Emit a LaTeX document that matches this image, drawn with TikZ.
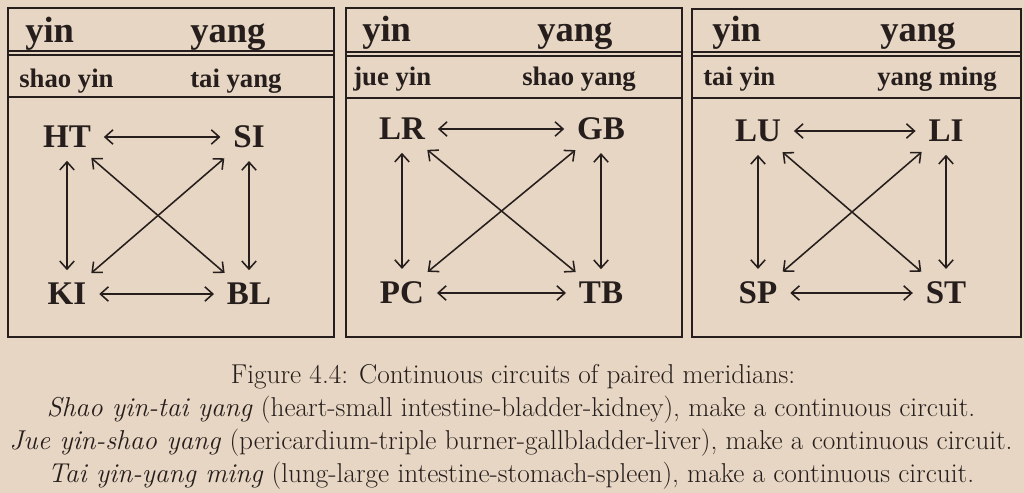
\documentclass[tikz,border=0pt]{standalone}
\usepackage{fontspec}
\newfontfamily\timesfont{Liberation Serif}
\usetikzlibrary{arrows.meta}
\definecolor{paper}{RGB}{230,214,195}
\definecolor{ink}{RGB}{38,30,28}

\begin{document}
\begin{tikzpicture}[x=0.25mm, y=-0.25mm, >={Straight Barb[length=2mm,width=3.6mm]}]
        \tikzstyle{frame} = [draw=ink, line width=1.3pt]
        \tikzstyle{rule} = [draw=ink, line width=1pt]
        \tikzstyle{head} = [anchor=base west, inner sep=0pt, text=ink, font=\timesfont\bfseries\fontsize{26}{28}\selectfont]
        \tikzstyle{sub} = [anchor=base west, inner sep=0pt, text=ink, font=\timesfont\bfseries\fontsize{19}{21}\selectfont]
        \tikzstyle{organ} = [text=ink, font=\timesfont\bfseries\fontsize{23.5}{25}\selectfont]
        \tikzstyle{link} = [<->, draw=ink, line width=1.1pt, shorten <=2mm, shorten >=2mm]
        \tikzstyle{caption} = [anchor=base, inner sep=0pt, text=ink, font=\fontsize{19.4}{21}\selectfont]

        \fill[paper] (0,0) rectangle (1024,493);
        \useasboundingbox (0,0) rectangle (1024,493);

        % shao yin - tai yang
        \draw[frame] (8,8) rectangle (334,337);
        \draw[rule] (8,51) -- (334,51) (8,55) -- (334,55) (8,97) -- (334,97);
        \node (yin1) [head] at (25,43) {yin};
        \node (yang1) [head] at (190,43) {yang};
        \node (shaoyin) [sub] at (19,88) {shao yin};
        \node (taiyang) [sub] at (190,88) {tai yang};

        \node (HT) [organ] at (67,137) {HT};
        \node (SI) [organ, right of=HT, node distance=45.5mm] {SI};
        \node (KI) [organ, below of=HT, node distance=39.25mm] {KI};
        \node (BL) [organ, below of=SI, node distance=39.25mm] {BL};

        \draw [link] (HT) -- (SI);
        \draw [link] (KI) -- (BL);
        \draw [link] (HT) -- (KI);
        \draw [link] (SI) -- (BL);
        \draw [link] (HT) -- (BL);
        \draw [link] (SI) -- (KI);

        % jue yin - shao yang
        \draw[frame] (346,8) rectangle (682,337);
        \draw[rule] (346,52) -- (682,52) (346,56) -- (682,56) (346,98) -- (682,98);
        \node (yin2) [head] at (362,42) {yin};
        \node (yang2) [head] at (537,42) {yang};
        \node (jueyin) [sub] at (353,86) {jue yin};
        \node (shaoyang) [sub] at (522,86) {shao yang};

        \node (LR) [organ] at (402,129) {LR};
        \node (GB) [organ, right of=LR, node distance=49.75mm] {GB};
        \node (PC) [organ, below of=LR, node distance=41mm] {PC};
        \node (TB) [organ, below of=GB, node distance=41mm] {TB};

        \draw [link] (LR) -- (GB);
        \draw [link] (PC) -- (TB);
        \draw [link] (LR) -- (PC);
        \draw [link] (GB) -- (TB);
        \draw [link] (LR) -- (TB);
        \draw [link] (GB) -- (PC);

        % tai yin - yang ming
        \draw[frame] (692,9) rectangle (1021,337);
        \draw[rule] (692,52) -- (1021,52) (692,56) -- (1021,56) (692,98) -- (1021,98);
        \node (yin3) [head] at (712,42) {yin};
        \node (yang3) [head] at (880,42) {yang};
        \node (taiyin) [sub] at (703,86) {tai yin};
        \node (yangming) [sub] at (877,86) {yang ming};

        \node (LU) [organ] at (758,131) {LU};
        \node (LI) [organ, right of=LU, node distance=47mm] {LI};
        \node (SP) [organ, below of=LU, node distance=40.5mm] {SP};
        \node (ST) [organ, below of=LI, node distance=40.5mm] {ST};

        \draw [link] (LU) -- (LI);
        \draw [link] (SP) -- (ST);
        \draw [link] (LU) -- (SP);
        \draw [link] (LI) -- (ST);
        \draw [link] (LU) -- (ST);
        \draw [link] (LI) -- (SP);

        % caption
        \node (fig) [caption] at (513,383) {Figure 4.4: Continuous circuits of paired meridians:};
        \node (cap1) [caption] at (511,416) {\textit{Shao yin-tai yang} (heart-small intestine-bladder-kidney), make a continuous circuit.};
        \node (cap2) [caption] at (511,449) {\textit{Jue yin-shao yang} (pericardium-triple burner-gallbladder-liver), make a continuous circuit.};
        \node (cap3) [caption] at (511,482) {\textit{Tai yin-yang ming} (lung-large intestine-stomach-spleen), make a continuous circuit.};
    \end{tikzpicture}
\end{document}
